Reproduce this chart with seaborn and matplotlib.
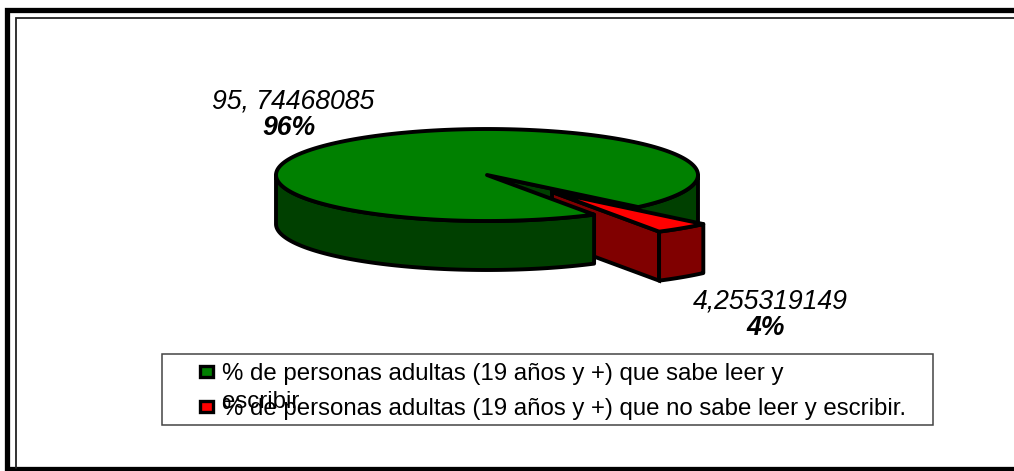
import numpy as np
import matplotlib.pyplot as plt
from matplotlib.patches import Polygon, Rectangle
import seaborn as sns

sns.set_theme(style="white")
plt.rcParams['font.family'] = ['Liberation Sans', 'DejaVu Sans']

# Datos
categorias = ['% de personas adultas (19 años y +) que sabe leer y\nescribir',
              '% de personas adultas (19 años y +) que no sabe leer y escribir.']
valores = [95.74468085, 4.255319149]
etiquetas_valor = ['95, 74468085', '4,255319149']
etiquetas_pct = ['96%', '4%']
colores_top = ['#008000', '#ff0000']
colores_lado = ['#004000', '#800000']

# Geometria de la torta (pixeles)
cx, cy = 487, 175
rx, ry = 211, 46
prof = 49
explode = (65, 17)
inicio = 59.5


def punto(t, dx=0, dy=0):
    t = np.radians(t)
    return np.array([cx + rx * np.cos(t) + dx, cy + ry * np.sin(t) + dy])


def arco(t0, t1, dx=0, dy=0):
    ts = np.linspace(t0, t1, 200)
    return np.array([punto(t, dx, dy) for t in ts])


def pared(ax, t0, t1, color, dx=0, dy=0, z=2):
    sup = arco(t0, t1, dx, dy)
    inf = arco(t0, t1, dx, dy + prof)[::-1]
    ax.add_patch(Polygon(np.vstack([sup, inf]), closed=True, fc=color, ec='black', lw=2.8, joinstyle='round', zorder=z))


fig, ax = plt.subplots(figsize=(10.14, 4.71), dpi=100)
ax.set_xlim(0, 1014)
ax.set_ylim(471, 0)
ax.axis('off')
fig.subplots_adjust(0, 0, 1, 1)

# Marco doble, sin borde derecho (queda fuera de la imagen)
ax.plot([1020, 6.5, 6.5, 1020], [9.5, 9.5, 468.5, 468.5], color='black', lw=3.8, solid_joinstyle='miter', zorder=0)
ax.plot([1020, 15.5, 15.5], [17.5, 17.5, 468], color='#222222', lw=1.3, solid_joinstyle='miter', zorder=0)

# Angulos a partir de los valores
ang_verde = valores[0] / sum(valores) * 360
fin_verde = inicio + ang_verde
t_corte = fin_verde - 360

# Sector rojo separado: cara interior, queda detras del sector verde
dx, dy = explode
ap = np.array([cx + dx, cy + dy])
cara_roja = np.array([ap, punto(inicio, dx, dy), punto(inicio, dx, dy + prof), ap + [0, prof]])

# Sector verde
cara = np.array([[cx, cy], punto(t_corte), punto(t_corte, 0, prof), [cx, cy + prof]])
ax.add_patch(Polygon(cara, closed=True, fc=colores_lado[0], ec='black', lw=2.8, zorder=1))
pared(ax, 0, t_corte, colores_lado[0], z=1.5)
ax.add_patch(Polygon(cara_roja, closed=True, fc=colores_lado[1], ec='black', lw=2.8, zorder=2))
pared(ax, inicio, 180, colores_lado[0], z=3)
borde = np.vstack([[[cx, cy]], arco(inicio, fin_verde)])
ax.add_patch(Polygon(borde, closed=True, fc=colores_top[0], ec='black', lw=2.8, joinstyle='round', zorder=4))

pared(ax, t_corte, inicio, colores_lado[1], dx, dy, z=6)
top_rojo = np.vstack([[ap], arco(t_corte, inicio, dx, dy)])
ax.add_patch(Polygon(top_rojo, closed=True, fc=colores_top[1], ec='black', lw=2.8, joinstyle='round', zorder=7))

# Etiquetas
ax.text(293.5, 108, etiquetas_valor[0], ha='center', va='baseline', style='italic', fontsize=19.2, color='black')
ax.text(289, 135, etiquetas_pct[0], ha='center', va='baseline', style='italic', weight='bold', fontsize=19.2, color='black')
ax.text(770, 308, etiquetas_valor[1], ha='center', va='baseline', style='italic', fontsize=19.2, color='black')
ax.text(766, 335, etiquetas_pct[1], ha='center', va='baseline', style='italic', weight='bold', fontsize=19.2, color='black')

# Leyenda
ax.add_patch(Rectangle((161.5, 354), 771, 71, fc='white', ec='#444444', lw=1.1, zorder=1))
lineas = categorias[0].split('\n')
ax.text(222, 380, lineas[0], ha='left', va='baseline', fontsize=17.25, color='black')
ax.text(222, 408, lineas[1], ha='left', va='baseline', fontsize=17.25, color='black')
ax.text(222, 415.5, categorias[1], ha='left', va='baseline', fontsize=17.25, color='black')
for y, c in zip([371, 406], colores_top):
    ax.add_patch(Rectangle((200, y - 5.5), 13, 11, fc=c, ec='black', lw=2.4, zorder=2))

fig.savefig('out.png', dpi=100)
